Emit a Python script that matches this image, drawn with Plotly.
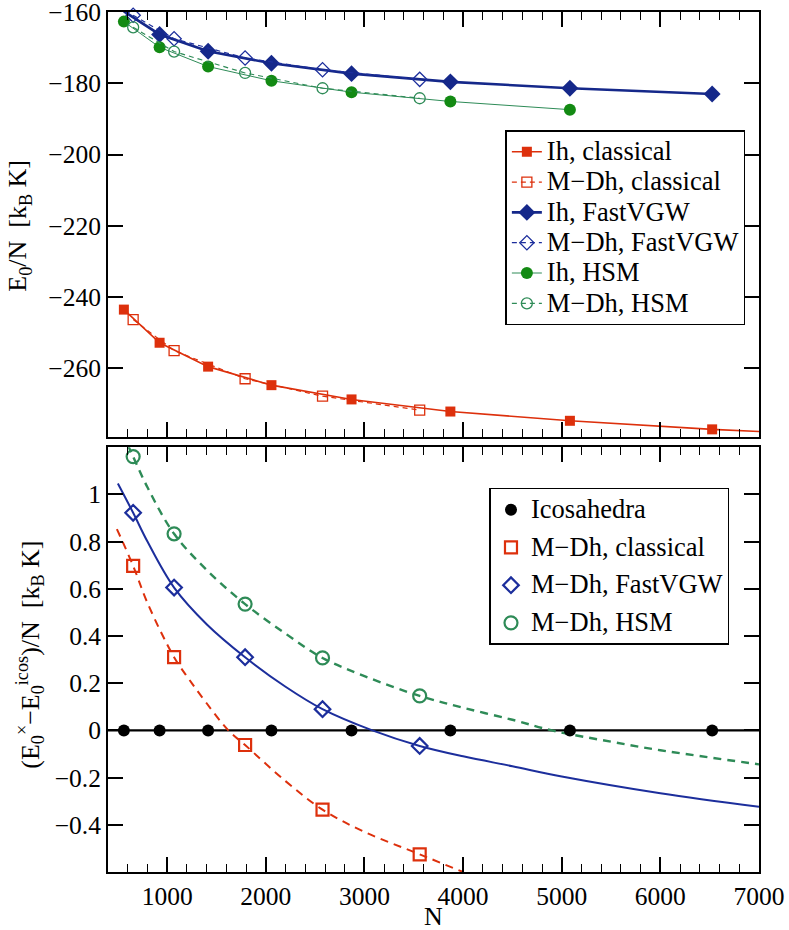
import plotly.graph_objects as go

# cluster sizes (icosahedra and Marks decahedra)
n_ih = [561, 923, 1415, 2057, 2869, 3871, 5083, 6525]
n_mdh = [655, 1070, 1790, 2575, 3560]

# top panel: E0/N in kB K
ih_classical = [-243.5, -252.8, -259.5, -264.7, -268.7, -272.1, -274.7, -277.1]
mdh_classical = [-246.3, -255.0, -262.9, -267.8, -271.7]
ih_fastvgw = [-159.8, -166.3, -171.0, -174.4, -177.3, -179.6, -181.4, -183.0]
mdh_fastvgw = [-160.9, -167.5, -172.9, -176.2, -178.9]
ih_hsm = [-162.7, -169.9, -175.3, -179.3, -182.5, -185.1, -187.4]
mdh_hsm = [-164.3, -171.1, -177.1, -181.4, -184.2]
# tail of the classical Ih curve out to the frame edge
ih_classical_tail_n = [6525, 7000]
ih_classical_tail = [-277.1, -277.7]

# bottom panel: energy difference to icosahedra
diff_icos = [0, 0, 0, 0, 0, 0, 0, 0]
diff_classical = [0.697, 0.310, -0.062, -0.336, -0.525]
diff_fastvgw = [0.922, 0.605, 0.310, 0.090, -0.066]
diff_hsm = [1.160, 0.833, 0.535, 0.307, 0.146]

# fitted curves
fit_classical_n = [490, 655, 800, 1070, 1226, 1400, 1620, 1790, 2200, 2575, 3000, 3560, 4000]
fit_classical = [0.853, 0.697, 0.54, 0.310, 0.214, 0.115, 0.0, -0.062, -0.215, -0.336, -0.43, -0.525, -0.60]
fit_fastvgw_n = [500, 655, 800, 1070, 1400, 1790, 2200, 2575, 3080, 3560, 4000, 4500, 5000, 6000, 7000]
fit_fastvgw = [1.046, 0.922, 0.80, 0.605, 0.45, 0.310, 0.185, 0.090, 0.0, -0.066, -0.110, -0.152, -0.195, -0.266, -0.324]
fit_hsm_n = [600, 655, 800, 1070, 1400, 1790, 2200, 2575, 3000, 3560, 4000, 4500, 4900, 5500, 6000, 7000]
fit_hsm = [1.21, 1.160, 1.03, 0.833, 0.68, 0.535, 0.41, 0.307, 0.23, 0.146, 0.096, 0.045, 0.0, -0.048, -0.084, -0.144]
zero_n = [400, 7000]
zero_line = [0, 0]

RED = '#dd300c'
NAVY = '#15288a'
BLUE = '#1c2e9c'
GREEN = '#138a13'
SEA = '#2e8b57'
FONT = 'Liberation Serif'


def big(label):
    # legend rows are spaced by the legend font, text is drawn larger
    return '<span style="font-size:26.5px">' + label + '</span>'


fig = go.Figure()

# ---- top panel ----
fig.add_trace(go.Scatter(x=ih_classical_tail_n, y=ih_classical_tail, mode='lines',
                         line=dict(color=RED, width=1.6), showlegend=False,
                         xaxis='x', yaxis='y'))
fig.add_trace(go.Scatter(x=n_ih, y=ih_classical, mode='lines+markers', name=big('Ih, classical'),
                         line=dict(color=RED, width=1.6), cliponaxis=False,
                         marker=dict(symbol='square', size=10, color=RED),
                         xaxis='x', yaxis='y', legend='legend'))
fig.add_trace(go.Scatter(x=n_mdh, y=mdh_classical, mode='lines+markers', name=big('M\u2212Dh, classical'),
                         line=dict(color=RED, width=1.2, dash='5px,4px'), cliponaxis=False,
                         marker=dict(symbol='square-open', size=10, color=RED, line=dict(width=1.3)),
                         xaxis='x', yaxis='y', legend='legend'))
fig.add_trace(go.Scatter(x=n_ih, y=ih_fastvgw, mode='lines+markers', name=big('Ih, FastVGW'),
                         line=dict(color=NAVY, width=2.6), cliponaxis=False,
                         marker=dict(symbol='diamond', size=13, color=NAVY),
                         xaxis='x', yaxis='y', legend='legend'))
fig.add_trace(go.Scatter(x=n_mdh, y=mdh_fastvgw, mode='lines+markers', name=big('M\u2212Dh, FastVGW'),
                         line=dict(color=BLUE, width=1.2, dash='5px,4px'), cliponaxis=False,
                         marker=dict(symbol='diamond-open', size=11, color=BLUE, line=dict(width=1.3)),
                         xaxis='x', yaxis='y', legend='legend'))
fig.add_trace(go.Scatter(x=n_ih[:7], y=ih_hsm, mode='lines+markers', name=big('Ih, HSM'),
                         line=dict(color=SEA, width=1), cliponaxis=False,
                         marker=dict(symbol='circle', size=12, color=GREEN),
                         xaxis='x', yaxis='y', legend='legend'))
fig.add_trace(go.Scatter(x=n_mdh, y=mdh_hsm, mode='lines+markers', name=big('M\u2212Dh, HSM'),
                         line=dict(color=SEA, width=1.2, dash='5px,4px'), cliponaxis=False,
                         marker=dict(symbol='circle-open', size=11, color=SEA, line=dict(width=1.3)),
                         xaxis='x', yaxis='y', legend='legend'))

# ---- bottom panel ----
fig.add_trace(go.Scatter(x=zero_n, y=zero_line, mode='lines', line=dict(color='black', width=2.4),
                         showlegend=False, xaxis='x2', yaxis='y2'))
fig.add_trace(go.Scatter(x=fit_classical_n, y=fit_classical, mode='lines', line_shape='spline',
                         line=dict(color=RED, width=2, dash='8px,6px'),
                         showlegend=False, xaxis='x2', yaxis='y2'))
fig.add_trace(go.Scatter(x=fit_fastvgw_n, y=fit_fastvgw, mode='lines', line_shape='spline',
                         line=dict(color=BLUE, width=2),
                         showlegend=False, xaxis='x2', yaxis='y2'))
fig.add_trace(go.Scatter(x=fit_hsm_n, y=fit_hsm, mode='lines', line_shape='spline',
                         line=dict(color=SEA, width=2.4, dash='8px,6px'),
                         showlegend=False, xaxis='x2', yaxis='y2'))

fig.add_trace(go.Scatter(x=n_ih, y=diff_icos, mode='markers', name=big('Icosahedra'),
                         marker=dict(symbol='circle', size=12, color='black'),
                         xaxis='x2', yaxis='y2', legend='legend2', legendgroup='a'))
fig.add_trace(go.Scatter(x=n_mdh, y=diff_classical, mode='markers', name=big('M\u2212Dh, classical'),
                         marker=dict(symbol='square-open', size=12, color=RED, line=dict(width=2.2)),
                         xaxis='x2', yaxis='y2', legend='legend2', legendgroup='b'))
fig.add_trace(go.Scatter(x=n_mdh, y=diff_fastvgw, mode='markers', name=big('M\u2212Dh, FastVGW'),
                         marker=dict(symbol='diamond-open', size=12, color=BLUE, line=dict(width=2.2)),
                         xaxis='x2', yaxis='y2', legend='legend2', legendgroup='c'))
fig.add_trace(go.Scatter(x=n_mdh, y=diff_hsm, mode='markers', name=big('M\u2212Dh, HSM'),
                         marker=dict(symbol='circle-open', size=13, color=SEA, line=dict(width=2.2)),
                         xaxis='x2', yaxis='y2', legend='legend2', legendgroup='d'))

xaxis_style = dict(range=[400, 7000], tick0=0, dtick=1000, ticks='inside', ticklen=15, tickwidth=1.5,
                   showline=True, linewidth=1.8, linecolor='black', mirror='ticks', showgrid=False,
                   zeroline=False, tickcolor='black', ticklabeloverflow='allow',
                   minor=dict(tick0=0, dtick=200, ticks='inside', ticklen=8, tickwidth=1.3,
                              tickcolor='black', showgrid=False))
yaxis_style = dict(ticks='inside', ticklen=15, tickwidth=1.5, showline=True, linewidth=1.8,
                   linecolor='black', mirror='ticks', showgrid=False, zeroline=False, tickcolor='black',
                   ticklabeloverflow='allow')

fig.update_layout(
    width=789, height=930,
    paper_bgcolor='white', plot_bgcolor='white',
    margin=dict(l=108, r=30, t=12, b=58, autoexpand=False),
    font=dict(family=FONT, size=25.5, color='black'),
    xaxis=dict(xaxis_style, anchor='y', showticklabels=False),
    yaxis=dict(yaxis_style, domain=[0.506, 1], range=[-279.2, -160],
               tickvals=[-160, -180, -200, -220, -240, -260]),
    xaxis2=dict(xaxis_style, anchor='y2'),
    yaxis2=dict(yaxis_style, domain=[0, 0.494], range=[-0.6, 1.2],
                tickvals=[-0.4, -0.2, 0, 0.2, 0.4, 0.6, 0.8, 1],
                ticktext=['\u22120.4', '\u22120.2', '0', '0.2', '0.4', '0.6', '0.8', '1']),
    legend=dict(x=0.6104, y=0.8626, xanchor='left', yanchor='top', bgcolor='white',
                bordercolor='black', borderwidth=1.5, font=dict(family=FONT, size=21)),
    legend2=dict(x=0.586, y=0.4466, xanchor='left', yanchor='top', bgcolor='white',
                 bordercolor='black', borderwidth=1.5, tracegroupgap=7,
                 font=dict(family=FONT, size=21.3)),
    annotations=[
        dict(text='E<sub>0</sub>/N&nbsp; [k<sub>B</sub> K]', xref='paper', yref='paper',
             x=-0.136, y=0.752, textangle=-90, showarrow=False, xanchor='center', yanchor='middle',
             font=dict(family=FONT, size=26)),
        dict(text='(E<sub>0</sub><sup>\u00d7</sup>\u2212E<sub>0</sub><sup>icos</sup>)/N&nbsp; [k<sub>B</sub> K]',
             xref='paper', yref='paper', x=-0.12, y=0.2525, textangle=-90, showarrow=False,
             xanchor='center', yanchor='middle', font=dict(family=FONT, size=26)),
        dict(text='N', xref='paper', yref='paper', x=0.5, y=-0.052, showarrow=False,
             xanchor='center', yanchor='middle', font=dict(family=FONT, size=26)),
    ],
)

# the page body has a default margin; drop it so the figure sits at the window corner
fig.write_html("out.html", config={'displayModeBar': False},
               post_script="document.body.style.margin='0px';")
